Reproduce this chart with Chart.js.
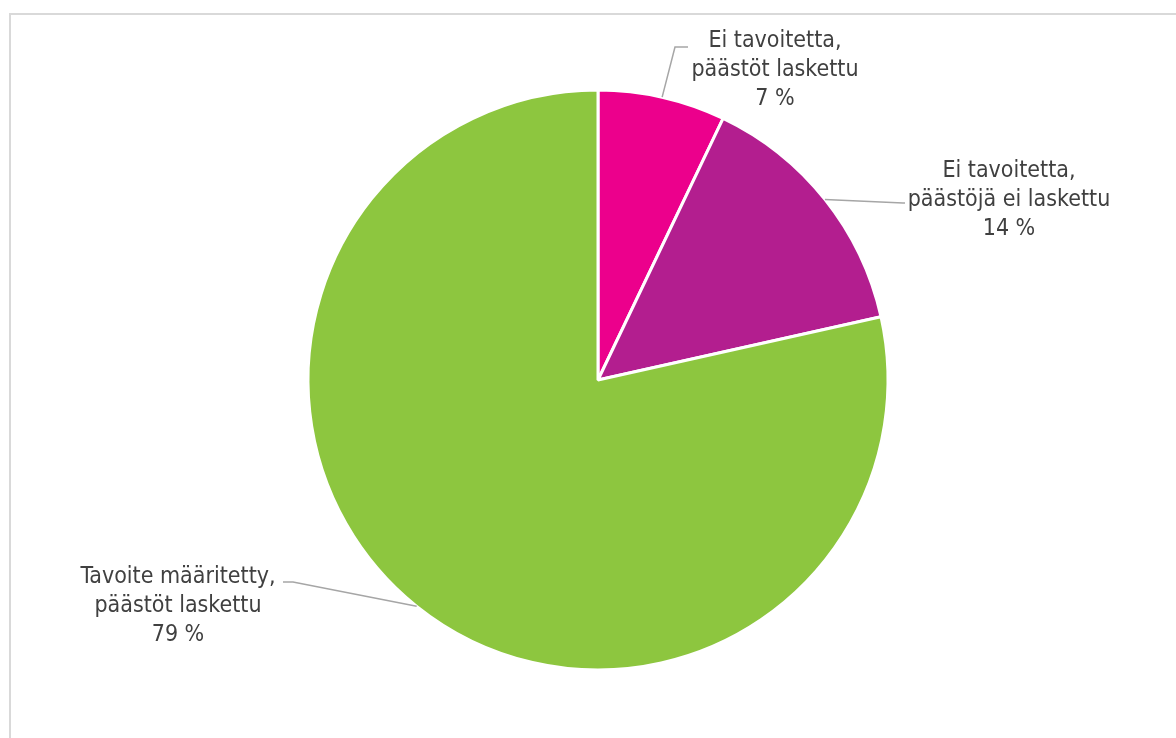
<!DOCTYPE html>
<html><head><meta charset="utf-8">
<script src="https://cdn.jsdelivr.net/npm/chart.js@4"></script>
<style>
html,body{margin:0;padding:0;background:#fff;overflow:hidden;}
#frame{position:absolute;left:9px;top:13px;width:1400px;height:1000px;border-top:2px solid #d9d9d9;border-left:2px solid #d9d9d9;}
#wrap{position:absolute;left:0;top:0;width:1176px;height:738px;}
</style></head><body>
<div id="frame"></div>
<div id="wrap"><canvas id="c" width="1176" height="738"></canvas></div>
<script>
// ---- data ----
const categories = [
  ["Ei tavoitetta,", "päästöt laskettu"],
  ["Ei tavoitetta,", "päästöjä ei laskettu"],
  ["Tavoite määritetty,", "päästöt laskettu"]
];
const values = [7.1, 14.4, 78.5];
const percentLabels = ["7 %", "14 %", "79 %"];

// ---- style ----
const colors = ["#EC008C", "#B31E8F", "#8DC63F"];
const labelLayout = [
  {x: 775, y: 47, elbow: [675, 47], end: [688, 47]},
  {x: 1009, y: 177, elbow: [903, 203], end: [905, 203]},
  {x: 178, y: 583, elbow: [293, 582], end: [283, 582]}
];
const textColor = "#404040";
const leaderColor = "#a6a6a6";

function pickFont(ctx) {
  ctx.font = '23px "DejaVu Sans Condensed"';
  const w = ctx.measureText("päästöt laskettu").width;
  if (w > 150 && w < 185) return '23px "DejaVu Sans Condensed"';
  return '21px "DejaVu Sans"';
}

const labelPlugin = {
  id: 'pieLabels',
  afterDraw(chart) {
    const ctx = chart.ctx;
    const meta = chart.getDatasetMeta(0);
    ctx.save();
    const font = pickFont(ctx);
    meta.data.forEach((arc, i) => {
      const p = arc.getProps(['x', 'y', 'startAngle', 'endAngle', 'outerRadius'], true);
      const mid = (p.startAngle + p.endAngle) / 2;
      const sx = p.x + Math.cos(mid) * p.outerRadius;
      const sy = p.y + Math.sin(mid) * p.outerRadius;
      const L = labelLayout[i];
      ctx.strokeStyle = leaderColor;
      ctx.lineWidth = 1.5;
      ctx.beginPath();
      ctx.moveTo(sx, sy);
      ctx.lineTo(L.elbow[0], L.elbow[1]);
      ctx.lineTo(L.end[0], L.end[1]);
      ctx.stroke();
      ctx.fillStyle = textColor;
      ctx.font = font;
      ctx.textAlign = 'center';
      ctx.textBaseline = 'alphabetic';
      const lines = categories[i].concat([percentLabels[i]]);
      lines.forEach((t, k) => ctx.fillText(t, L.x, L.y + k * 28.8));
    });
    ctx.restore();
  }
};

new Chart(document.getElementById('c'), {
  type: 'pie',
  data: {
    labels: categories.map(c => c.join(' ')),
    datasets: [{
      data: values,
      backgroundColor: colors,
      borderColor: '#ffffff',
      borderWidth: 3,
      hoverOffset: 0,
      radius: 290
    }]
  },
  options: {
    responsive: false,
    animation: false,
    devicePixelRatio: 1,
    layout: {padding: {left: 308, right: 288, top: 90, bottom: 68}},
    plugins: {legend: {display: false}, tooltip: {enabled: false}}
  },
  plugins: [labelPlugin]
});
</script>
</body></html>
